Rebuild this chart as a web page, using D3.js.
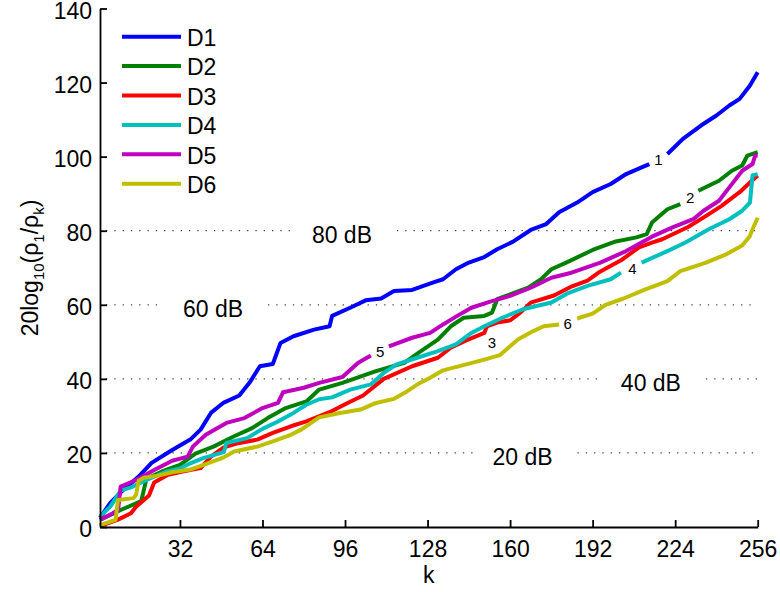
<!DOCTYPE html>
<html>
<head>
<meta charset="utf-8">
<script src="https://cdn.jsdelivr.net/npm/d3@7"></script>
<style>
  body { margin: 0; background: #fff; }
  svg { display: block; }
  text { font-family: "Liberation Sans", Arial, Helvetica, sans-serif; fill: #000; }
</style>
</head>
<body>
<svg id="chart" width="780" height="592"></svg>
<script>
// Singular-value decay curves: 20log10(rho_1/rho_k) against index k
const seriesNames  = ["D1", "D2", "D3", "D4", "D5", "D6"];
const seriesColors = ["#0000ff", "#008000", "#ff0000", "#00bfbf", "#bf00bf", "#bfbf00"];

const D1 = [[1,2.5],[5,6.5],[10,10],[16,13.6],[21,17.3],[29,20.8],[36,23.6],[40,26.3],[44,30.8],[49,33.6],
  [55,35.5],[59,39],[63,43.4],[68,44],[71,49.7],[76,51.5],[84,53.3],[90,54.2],[91,57],[98,59.2],[104,61.2],
  [110,61.7],[115,63.7],[122,64],[130,66],[134,66.9],[139,69.6],[144,71.4],[150,72.9],[155,75],[161,77],
  [168,80.2],[174,81.8],[179,85],[186,87.6],[192,90.4],[199,92.6],[205,95.3],[211,97.1],[214,98],[221,100.7],
  [227,104.8],[234,108.4],[240,111.1],[245,113.8],[249,115.6],[253,119.2],[256,122.8]];
const D2 = [[1,1.9],[9,4.6],[17,7],[19,13],[25,15],[32,16.8],[38,19.8],[45,21.7],[53,24.5],[60,26.7],
  [66,29.4],[73,32.1],[81,33.9],[86,37.1],[95,38.9],[108,42.1],[119,44.3],[125,47.3],[132,50.6],[137,54.2],
  [142,56.5],[150,57],[153,57.9],[155,61.5],[160,62.8],[167,64.6],[172,66.9],[176,69.6],[183,71.8],[192,74.8],
  [201,77.1],[209,78.2],[213,79.1],[215,82.2],[221,85.8],[226,87.2],[233,90.8],[241,93.5],[246,96.2],
  [250,97.6],[252,100.3],[256,101.2]];
const D3 = [[1,0.2],[2,0.5],[8,2],[13,3.7],[15,5.5],[20,8.5],[22,12],[27,14],[33,15],[40,15.9],[44,19],
  [49,21.5],[55,22.7],[62,23.6],[68,25.4],[75,27.2],[81,28.5],[90,31],[97,33.5],[103,35.5],[111,40],
  [122,43.4],[132,45.7],[137,48.4],[143,50.4],[150,52.4],[151,54.2],[155,55.2],[160,55.8],[164,57.9],
  [168,60.6],[177,62.5],[184,65],[190,66.5],[195,69],[203,72],[210,75.5],[215,76.8],[219,77.7],[229,81],
  [236,84],[242,86.7],[249,90.4],[253,93],[256,94.9]];
const D4 = [[1,2.8],[5,5.5],[9,9.8],[13,10.7],[19,12.7],[27,15],[32,15.8],[36,17.2],[41,18.6],[49,20.2],
  [50,22.7],[58,24],[64,26.5],[70,28.5],[76,30.8],[81,33],[86,34.5],[91,35],[98,37.1],[106,38.5],[111,41.6],
  [116,43.9],[124,45.7],[132,47.5],[139,49.3],[145,52.4],[150,54.2],[157,56.5],[165,58.8],[176,60.6],
  [182,63],[190,65.1],[199,66.9],[203,68.7],[211,71.4],[221,74.5],[228,76.8],[237,80.4],[245,83.1],
  [250,85.4],[253,87.6],[254,94.9],[256,95.3]];
const D5 = [[1,2],[6,3.7],[8,4.6],[9,10.9],[15,12.7],[22,15.4],[29,17.9],[35,19],[37,21.7],[42,24.9],
  [50,28.1],[57,29.4],[64,32.1],[70,33.5],[72,36.4],[80,37.6],[86,38.9],[95,40.5],[101,44.3],[106,46.3],
  [113,48.8],[122,51.1],[129,52.4],[134,54.7],[139,56.8],[145,59.2],[152,60.8],[160,62.4],[168,64.6],
  [176,67.3],[183,68.5],[195,71.4],[205,74.5],[215,78.4],[223,80.9],[231,83.1],[235,85.4],[241,88.1],
  [245,91.7],[250,96.2],[254,98],[255,100.3],[256,100.3]];
const D6 = [[1,0.5],[7,1.9],[8,7.3],[14,7.8],[15,8.7],[16,12.5],[18,13.3],[23,13.8],[29,14.8],[36,15.5],
  [42,17],[49,18.8],[53,20.4],[62,21.7],[68,23.1],[75,24.9],[79,26.3],[86,29.6],[94,30.8],[102,31.7],
  [108,33.5],[115,34.6],[120,36.6],[125,38.9],[129,40.3],[134,42.3],[143,43.9],[150,45.2],[156,46.4],
  [160,48.8],[163,50.6],[169,52.9],[173,54.2],[179,54.7],[186,56.3],[192,57.6],[197,60],[204,61.7],
  [212,64],[221,66.4],[226,69.1],[236,71.4],[244,73.7],[250,76],[253,78.6],[254,80.4],[256,83.5]];
const seriesData = [D1, D2, D3, D4, D5, D6];

// inline curve labels: text, anchor (k, value), and the k-range where the curve is broken for it
const curveLabels   = ["1", "2", "3", "4", "5", "6"];
const curveLabelAt  = [[217.5,99.2],[229.8,89],[153,49.7],[207.4,69.8],[109.6,47.5],[182.3,55]];
const curveGaps     = [[214,221],[226,233],null,[203,211],[106,113],[179,186]];

// dotted reference levels with their inline labels
const levels      = [20, 40, 60, 80];
const levelLabels = ["20 dB", "40 dB", "60 dB", "80 dB"];
const levelLabelK = [164.8, 214.6, 44.8, 94.8];

const xTicks = [32, 64, 96, 128, 160, 192, 224, 256];
const yTicks = [0, 20, 40, 60, 80, 100, 120, 140];

const svg = d3.select("#chart");
svg.append("rect").attr("width", 780).attr("height", 592).attr("fill", "#fff");

const x = d3.scaleLinear().domain([1, 256]).range([100, 757.7]);
const y = d3.scaleLinear().domain([0, 140]).range([527, 8.5]);

// reference levels
const gapHalf = 49;
levels.forEach((lv, i) => {
  const cx = x(levelLabelK[i]);
  const segs = [[x(1), cx - gapHalf], [cx + gapHalf, x(256)]];
  segs.forEach(([a, b]) => {
    svg.append("line")
      .attr("x1", a).attr("x2", b).attr("y1", y(lv)).attr("y2", y(lv))
      .attr("stroke", "#444").attr("stroke-width", 1.3)
      .attr("stroke-dasharray", "1.3 7").attr("stroke-dashoffset", -6);
  });
  svg.append("text")
    .attr("x", cx).attr("y", y(lv) + 12.5)
    .attr("text-anchor", "middle").attr("font-size", 23)
    .text(levelLabels[i]);
});

// curves
const line = d3.line().x(d => x(d[0])).y(d => y(d[1])).curve(d3.curveLinear);
seriesData.forEach((data, i) => {
  const g = curveGaps[i];
  const parts = g ? [data.filter(d => d[0] <= g[0]), data.filter(d => d[0] >= g[1])] : [data];
  parts.forEach(p => {
    svg.append("path").datum(p)
      .attr("d", line).attr("fill", "none")
      .attr("stroke", seriesColors[i]).attr("stroke-width", 4)
      .attr("stroke-linejoin", "round").attr("stroke-linecap", "butt");
  });
});

// inline curve labels
curveLabels.forEach((t, i) => {
  svg.append("text")
    .attr("x", x(curveLabelAt[i][0])).attr("y", y(curveLabelAt[i][1]) + 5.5)
    .attr("text-anchor", "middle").attr("font-size", 15)
    .text(t);
});

// axes with inward ticks
const xAxis = d3.axisBottom(x).tickValues(xTicks).tickSizeInner(-7).tickSizeOuter(0).tickPadding(0);
const yAxis = d3.axisLeft(y).tickValues(yTicks).tickSizeInner(-7).tickSizeOuter(0).tickPadding(8);

const gx = svg.append("g").attr("transform", `translate(0,${y(0)})`).call(xAxis);
const gy = svg.append("g").attr("transform", `translate(${x(1)},0)`).call(yAxis);

[gx, gy].forEach(g => {
  g.select(".domain").attr("stroke", "#000").attr("stroke-width", 1.8);
  g.selectAll(".tick line").attr("stroke", "#000").attr("stroke-width", 1.8);
  g.selectAll(".tick text").attr("font-size", 23).attr("font-family", null).attr("fill", "#000");
});
gx.selectAll(".tick text").attr("y", 29.7).attr("dy", null);
gy.selectAll(".tick text").attr("dy", "9.5");

// axis titles
svg.append("text")
  .attr("x", (x(1) + x(256)) / 2).attr("y", 583)
  .attr("text-anchor", "middle").attr("font-size", 23).text("k");

const yl = svg.append("text")
  .attr("transform", "translate(38,268) rotate(-90)")
  .attr("text-anchor", "middle").attr("font-size", 23);
yl.append("tspan").text("20log");
yl.append("tspan").attr("font-size", 15).attr("dy", 6).text("10");
yl.append("tspan").attr("dy", -6).text("(\u03c1");
yl.append("tspan").attr("font-size", 15).attr("dy", 6).text("1");
yl.append("tspan").attr("dy", -6).text("/\u03c1");
yl.append("tspan").attr("font-size", 15).attr("dy", 6).text("k");
yl.append("tspan").attr("dy", -6).text(")");

// legend
seriesNames.forEach((n, i) => {
  const ly = 36.7 + i * 29.4;
  svg.append("line")
    .attr("x1", 122).attr("x2", 181).attr("y1", ly).attr("y2", ly)
    .attr("stroke", seriesColors[i]).attr("stroke-width", 4);
  svg.append("text")
    .attr("x", 187).attr("y", ly + 9.3).attr("font-size", 23).text(n);
});
</script>
</body>
</html>
